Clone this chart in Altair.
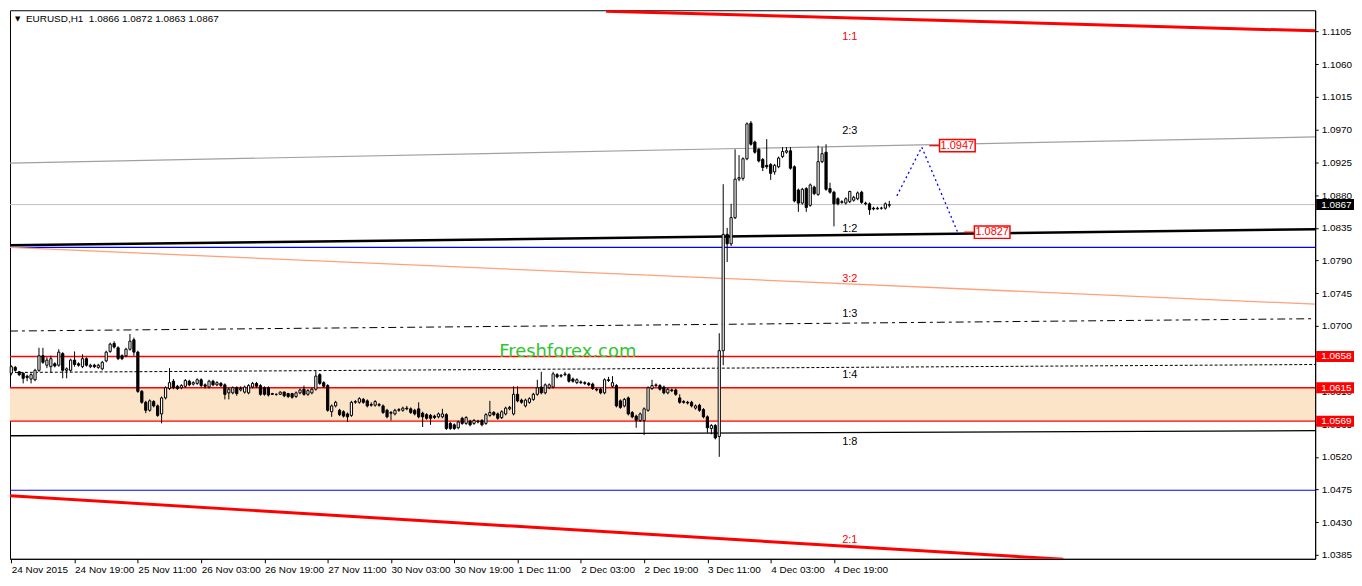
import altair as alt
import pandas as pd

# ---------------- data ----------------
opens = [1.0635,1.0643,1.0637,1.0635,1.0631,1.0627,1.0626,1.0639,1.0659,1.0646,
         1.0644,1.0648,1.0646,1.0662,1.0639,1.0639,1.0653,1.0648,1.0644,1.0655,
         1.0644,1.0646,1.0643,1.0641,1.0652,1.0665,1.0676,1.0670,1.0659,1.0659,
         1.0668,1.0681,1.0664,1.0610,1.0595,1.0584,1.0596,1.0590,1.0579,1.0601,
         1.0614,1.0624,1.0617,1.0615,1.0617,1.0624,1.0620,1.0621,1.0626,1.0619,
         1.0616,1.0624,1.0619,1.0621,1.0619,1.0608,1.0608,1.0615,1.0612,1.0609,
         1.0608,1.0616,1.0621,1.0618,1.0615,1.0615,1.0607,1.0606,1.0606,1.0609,
         1.0607,1.0607,1.0603,1.0608,1.0613,1.0606,1.0608,1.0613,1.0633,1.0622,
         1.0618,1.0582,1.0590,1.0584,1.0582,1.0579,1.0577,1.0595,1.0595,1.0599,
         1.0597,1.0592,1.0591,1.0592,1.0590,1.0584,1.0581,1.0579,1.0584,1.0584,
         1.0587,1.0586,1.0584,1.0586,1.0580,1.0578,1.0577,1.0576,1.0575,1.0575,
         1.0578,1.0566,1.0564,1.0560,1.0573,1.0566,1.0569,1.0566,1.0569,1.0570,
         1.0566,1.0577,1.0581,1.0579,1.0574,1.0579,1.0586,1.0579,1.0606,1.0598,
         1.0590,1.0595,1.0599,1.0606,1.0616,1.0608,1.0615,1.0616,1.0633,1.0631,
         1.0633,1.0633,1.0627,1.0622,1.0623,1.0622,1.0621,1.0620,1.0613,1.0613,
         1.0608,1.0626,1.0617,1.0618,1.0597,1.0590,1.0601,1.0581,1.0576,1.0570,
         1.0570,1.0584,1.0614,1.0618,1.0618,1.0616,1.0608,1.0612,1.0612,1.0601,
         1.0596,1.0595,1.0595,1.0587,1.0591,1.0585,1.0575,1.0559,1.0563,1.0548,
         1.0666,1.0826,1.0813,1.0849,1.0902,1.0903,1.0930,1.0979,1.0953,1.0943,
         1.0929,1.0921,1.0922,1.0912,1.0919,1.0933,1.0939,1.0941,1.0919,1.0887,
         1.0869,1.0889,1.0866,1.0891,1.0881,1.0926,1.0939,1.0889,1.0884,1.0875,
         1.0870,1.0869,1.0871,1.0873,1.0875,1.0884,1.0869,1.0868,1.0862,1.0861,
         1.0862,1.0862,1.0866]
highs = [1.0646,1.0645,1.0638,1.0636,1.0633,1.0635,1.0641,1.0670,1.0670,1.0657,
         1.0659,1.0650,1.0668,1.0664,1.0643,1.0655,1.0665,1.0650,1.0661,1.0657,
         1.0648,1.0648,1.0648,1.0652,1.0666,1.0677,1.0679,1.0672,1.0661,1.0670,
         1.0689,1.0684,1.0666,1.0612,1.0597,1.0599,1.0598,1.0592,1.0603,1.0617,
         1.0642,1.0627,1.0619,1.0620,1.0627,1.0626,1.0624,1.0628,1.0628,1.0621,
         1.0626,1.0626,1.0624,1.0623,1.0621,1.0615,1.0617,1.0617,1.0617,1.0618,
         1.0620,1.0623,1.0623,1.0620,1.0617,1.0617,1.0608,1.0607,1.0610,1.0610,
         1.0608,1.0608,1.0610,1.0614,1.0618,1.0613,1.0615,1.0638,1.0635,1.0624,
         1.0620,1.0592,1.0597,1.0586,1.0584,1.0581,1.0597,1.0598,1.0602,1.0601,
         1.0599,1.0595,1.0598,1.0594,1.0592,1.0586,1.0583,1.0586,1.0587,1.0589,
         1.0590,1.0588,1.0586,1.0595,1.0582,1.0580,1.0579,1.0578,1.0581,1.0586,
         1.0580,1.0568,1.0566,1.0570,1.0575,1.0576,1.0571,1.0572,1.0571,1.0572,
         1.0580,1.0597,1.0583,1.0581,1.0584,1.0589,1.0590,1.0617,1.0617,1.0600,
         1.0600,1.0602,1.0608,1.0626,1.0637,1.0621,1.0621,1.0637,1.0635,1.0634,
         1.0637,1.0635,1.0629,1.0628,1.0625,1.0624,1.0623,1.0622,1.0615,1.0615,
         1.0628,1.0630,1.0631,1.0620,1.0599,1.0601,1.0603,1.0583,1.0578,1.0581,
         1.0588,1.0617,1.0626,1.0621,1.0620,1.0618,1.0615,1.0614,1.0614,1.0606,
         1.0598,1.0597,1.0597,1.0592,1.0593,1.0587,1.0577,1.0565,1.0565,1.0690,
         1.0895,1.0835,1.0868,1.0943,1.0935,1.0932,1.0980,1.0982,1.0955,1.0945,
         1.0931,1.0957,1.0924,1.0923,1.0933,1.0946,1.0946,1.0946,1.0921,1.0889,
         1.0890,1.0891,1.0896,1.0893,1.0948,1.0946,1.0950,1.0897,1.0886,1.0877,
         1.0873,1.0877,1.0886,1.0879,1.0885,1.0886,1.0871,1.0870,1.0864,1.0864,
         1.0864,1.0870,1.0872]
lows = [1.0632,1.0637,1.0631,1.0621,1.0624,1.0621,1.0624,1.0637,1.0648,1.0642,
        1.0636,1.0643,1.0644,1.0628,1.0628,1.0637,1.0644,1.0644,1.0642,1.0644,
        1.0642,1.0642,1.0641,1.0639,1.0650,1.0663,1.0669,1.0653,1.0653,1.0657,
        1.0666,1.0659,1.0608,1.0593,1.0580,1.0582,1.0588,1.0575,1.0566,1.0599,
        1.0612,1.0613,1.0612,1.0613,1.0615,1.0617,1.0618,1.0619,1.0616,1.0614,
        1.0614,1.0617,1.0617,1.0616,1.0599,1.0599,1.0606,1.0604,1.0610,1.0607,
        1.0606,1.0614,1.0615,1.0604,1.0604,1.0603,1.0605,1.0604,1.0605,1.0602,
        1.0601,1.0600,1.0601,1.0606,1.0604,1.0604,1.0606,1.0611,1.0619,1.0615,
        1.0582,1.0575,1.0588,1.0576,1.0574,1.0568,1.0575,1.0593,1.0593,1.0593,
        1.0588,1.0589,1.0589,1.0589,1.0579,1.0573,1.0570,1.0577,1.0582,1.0582,
        1.0584,1.0579,1.0577,1.0573,1.0561,1.0571,1.0564,1.0572,1.0573,1.0573,
        1.0557,1.0557,1.0557,1.0558,1.0564,1.0564,1.0562,1.0564,1.0566,1.0562,
        1.0564,1.0575,1.0576,1.0571,1.0572,1.0577,1.0584,1.0577,1.0595,1.0593,
        1.0588,1.0593,1.0597,1.0604,1.0606,1.0606,1.0613,1.0614,1.0628,1.0629,
        1.0631,1.0622,1.0622,1.0620,1.0620,1.0619,1.0617,1.0612,1.0610,1.0606,
        1.0606,1.0623,1.0615,1.0588,1.0586,1.0588,1.0577,1.0573,1.0560,1.0568,
        1.0550,1.0582,1.0612,1.0616,1.0611,1.0606,1.0606,1.0609,1.0604,1.0593,
        1.0593,1.0592,1.0588,1.0585,1.0582,1.0573,1.0553,1.0551,1.0544,1.0520,
        1.0646,1.0788,1.0810,1.0847,1.0899,1.0900,1.0928,1.0948,1.0937,1.0925,
        1.0913,1.0916,1.0901,1.0908,1.0917,1.0931,1.0937,1.0915,1.0870,1.0857,
        1.0867,1.0857,1.0864,1.0880,1.0879,1.0924,1.0886,1.0882,1.0837,1.0866,
        1.0868,1.0867,1.0869,1.0871,1.0873,1.0868,1.0866,1.0853,1.0859,1.0860,
        1.0860,1.0860,1.0863]
closes = [1.0644,1.0639,1.0633,1.0628,1.0629,1.0633,1.0639,1.0659,1.0650,1.0653,
          1.0655,1.0645,1.0664,1.0639,1.0641,1.0653,1.0647,1.0646,1.0655,1.0646,
          1.0646,1.0644,1.0646,1.0650,1.0664,1.0675,1.0671,1.0655,1.0655,1.0668,
          1.0679,1.0664,1.0610,1.0595,1.0584,1.0597,1.0590,1.0577,1.0601,1.0615,
          1.0622,1.0615,1.0614,1.0618,1.0625,1.0619,1.0622,1.0626,1.0618,1.0617,
          1.0624,1.0619,1.0622,1.0618,1.0606,1.0613,1.0615,1.0607,1.0614,1.0616,
          1.0618,1.0621,1.0617,1.0606,1.0606,1.0605,1.0606,1.0606,1.0609,1.0604,
          1.0603,1.0602,1.0608,1.0612,1.0606,1.0611,1.0613,1.0631,1.0621,1.0617,
          1.0584,1.0590,1.0595,1.0578,1.0576,1.0575,1.0595,1.0596,1.0600,1.0595,
          1.0590,1.0591,1.0596,1.0591,1.0581,1.0575,1.0580,1.0584,1.0585,1.0587,
          1.0586,1.0581,1.0579,1.0575,1.0575,1.0573,1.0573,1.0574,1.0579,1.0579,
          1.0559,1.0559,1.0559,1.0568,1.0566,1.0574,1.0564,1.0570,1.0568,1.0564,
          1.0578,1.0581,1.0578,1.0573,1.0582,1.0587,1.0588,1.0606,1.0597,1.0595,
          1.0598,1.0600,1.0606,1.0615,1.0608,1.0619,1.0619,1.0634,1.0630,1.0632,
          1.0634,1.0624,1.0624,1.0626,1.0622,1.0621,1.0619,1.0614,1.0612,1.0608,
          1.0626,1.0625,1.0622,1.0590,1.0588,1.0599,1.0579,1.0575,1.0570,1.0579,
          1.0586,1.0615,1.0618,1.0619,1.0613,1.0608,1.0613,1.0611,1.0606,1.0595,
          1.0595,1.0594,1.0590,1.0590,1.0584,1.0575,1.0560,1.0563,1.0546,1.0666,
          1.0826,1.0813,1.0849,1.0902,1.0904,1.0930,1.0978,1.0950,1.0939,1.0927,
          1.0918,1.0919,1.0910,1.0921,1.0931,1.0940,1.0941,1.0917,1.0872,1.0869,
          1.0888,1.0863,1.0894,1.0882,1.0926,1.0937,1.0888,1.0884,1.0868,1.0868,
          1.0871,1.0875,1.0885,1.0877,1.0883,1.0870,1.0868,1.0860,1.0861,1.0862,
          1.0862,1.0868,1.0867]

time_labels = ["24 Nov 2015", "24 Nov 19:00", "25 Nov 11:00", "26 Nov 03:00",
               "26 Nov 19:00", "27 Nov 11:00", "30 Nov 03:00", "30 Nov 19:00",
               "1 Dec 11:00", "2 Dec 03:00", "2 Dec 19:00", "3 Dec 11:00",
               "4 Dec 03:00", "4 Dec 19:00"]
label_bars = [0, 16, 32, 48, 64, 80, 96, 112, 128, 144, 160, 176, 192, 208]
price_ticks = [1.0385, 1.0430, 1.0475, 1.0520, 1.0565, 1.0610, 1.0655, 1.0700,
               1.0745, 1.0790, 1.0835, 1.0880, 1.0925, 1.0970, 1.1015, 1.1060, 1.1105]

# channel / level lines (two end points each, bar index and price)
line_names = ["top_red", "top_red", "bot_red", "bot_red", "gray23", "gray23",
              "last", "last", "black12", "black12", "blue_hi", "blue_hi",
              "salmon32", "salmon32", "dashdot13", "dashdot13", "dot14", "dot14",
              "red1", "red1", "red2", "red2", "red3", "red3",
              "black18", "black18", "blue_lo", "blue_lo"]
line_k = [150.4, 329.67, -0.33, 266, -0.33, 329.67,
          -0.33, 329.67, -0.33, 329.67, -0.33, 329.67,
          -0.33, 329.67, -0.33, 329.67, -0.33, 329.67,
          -0.33, 329.67, -0.33, 329.67, -0.33, 329.67,
          -0.33, 329.67, -0.33, 329.67]
line_p = [1.1133, 1.1106, 1.04664, 1.0379, 1.0924, 1.0960,
          1.0867, 1.0867, 1.0811, 1.0833, 1.0808, 1.0808,
          1.0808, 1.0730, 1.0693, 1.0710, 1.0636, 1.0647,
          1.0658, 1.0658, 1.0615, 1.0615, 1.0569, 1.0569,
          1.0549, 1.0556, 1.0474, 1.0474]

band_low, band_high = 1.0569, 1.0615

ratio_text = ["1:1", "2:3", "1:2", "3:2", "1:3", "1:4", "1:8", "2:1"]
ratio_p = [1.1098, 1.0968, 1.0833, 1.0765, 1.0716, 1.0633, 1.0540, 1.0405]
ratio_k = [212, 212, 212, 212, 212, 212, 212, 212]

forecast_k = [223.9, 230.2, 239.2]
forecast_p = [1.0879, 1.0946, 1.0830]

target_text = ["1.0947", "1.0827"]
target_k = [239.2, 248.0]
target_p = [1.0948, 1.0829]
connector_k = [232.1, 234.7, 240.9, 243.6]
connector_p = [1.0948, 1.0948, 1.0829, 1.0829]
connector_id = ["a", "a", "b", "b"]

axis_box_p = [1.0867, 1.0658, 1.0615, 1.0569]
axis_box_kind = ["last", "level", "level", "level"]

title_text = ["EURUSD,H1\u00a0\u00a01.0866 1.0872 1.0863 1.0867"]
watermark_text = ["Freshforex.com"]
watermark_k = [140.7]
watermark_p = [1.0664]

# ---------------- chart ----------------
W, H = 1311, 551
FONT = "Liberation Sans"

bars = pd.DataFrame({"k": list(range(len(opens))), "o": opens, "h": highs,
                     "l": lows, "c": closes})
lines = pd.DataFrame({"name": line_names, "k": line_k, "p": line_p})
ratios = pd.DataFrame({"t": ratio_text, "k": ratio_k, "p": ratio_p})
forecast = pd.DataFrame({"k": forecast_k, "p": forecast_p, "i": [0, 1, 2]})
targets = pd.DataFrame({"t": target_text, "k": target_k, "p": target_p})
connectors = pd.DataFrame({"k": connector_k, "p": connector_p, "id": connector_id})
axis_boxes = pd.DataFrame({"p": axis_box_p, "kind": axis_box_kind,
                           "t": [f"{v:.4f}" for v in axis_box_p]})
band = pd.DataFrame({"k": [-0.33], "k2": [329.67], "p": [band_low], "p2": [band_high]})
title_df = pd.DataFrame({"t": title_text})
wm = pd.DataFrame({"t": watermark_text, "k": watermark_k, "p": watermark_p})

xs = alt.Scale(domain=[-0.33, 329.67], nice=False, zero=False)
ys = alt.Scale(domain=[1.03797, 1.11343], nice=False, zero=False)

label_arr = "[" + ",".join(f"'{t}'" for t in time_labels) + "]"
x_axis = alt.Axis(values=label_bars, labelExpr=f"{label_arr}[round(datum.value/16)]",
                  title=None, grid=False, orient="bottom", tickSize=4,
                  labelAlign="left", labelPadding=2, labelFont=FONT, labelFontSize=10,
                  labelColor="black", domainColor="black", tickColor="black",
                  labelOverlap=False, labelFlush=False)
y_axis = alt.Axis(values=price_ticks, format=".4f", title=None, grid=False,
                  orient="right", tickSize=3, labelPadding=3, labelFont=FONT,
                  labelFontSize=10, labelColor="black", domainColor="black",
                  tickColor="black", labelOverlap=False, labelFlush=False)


def X(field):
    return alt.X(field, type="quantitative", scale=xs, axis=x_axis)


def Y(field):
    return alt.Y(field, type="quantitative", scale=ys, axis=y_axis)


layers = []

# shaded band
layers.append(alt.Chart(band).mark_rect(color="#FCE4C9", clip=True).encode(
    x=X("k"), x2="k2", y=Y("p"), y2="p2"))

line_styles = {
    "top_red": dict(color="#FF0000", strokeWidth=3),
    "bot_red": dict(color="#FF0000", strokeWidth=3),
    "gray23": dict(color="#A0A0A0", strokeWidth=1.2),
    "last": dict(color="#C0C0C0", strokeWidth=1),
    "black12": dict(color="#000000", strokeWidth=2.5),
    "blue_hi": dict(color="#0000FF", strokeWidth=1.2),
    "salmon32": dict(color="#FFA07A", strokeWidth=1.3),
    "dashdot13": dict(color="#000000", strokeWidth=1, strokeDash=[8, 4, 3, 4]),
    "dot14": dict(color="#000000", strokeWidth=1, strokeDash=[3, 2]),
    "red1": dict(color="#FF0000", strokeWidth=1.3),
    "red2": dict(color="#FF0000", strokeWidth=1.3),
    "red3": dict(color="#FF0000", strokeWidth=1.3),
    "black18": dict(color="#000000", strokeWidth=1.3),
    "blue_lo": dict(color="#0000FF", strokeWidth=1.2),
}
for name, st in line_styles.items():
    layers.append(alt.Chart(lines).transform_filter(alt.datum.name == name)
                  .mark_line(clip=True, **st).encode(x=X("k"), y=Y("p")))

# candles: wicks and bodies
layers.append(alt.Chart(bars).mark_rule(color="black", strokeWidth=1).encode(
    x=X("k"), y=Y("l"), y2="h"))
layers.append(alt.Chart(bars).transform_calculate(
    kl="datum.k - 0.28", kr="datum.k + 0.28").mark_rect(
    stroke="black", strokeWidth=1).encode(
    x=X("kl"), x2="kr", y=Y("o"), y2="c",
    fill=alt.condition("datum.c >= datum.o", alt.value("white"), alt.value("black"))))

# forecast path
layers.append(alt.Chart(forecast).mark_line(color="#0000FF", strokeWidth=1.3,
                                            strokeDash=[2, 3]).encode(
    x=X("k"), y=Y("p"), order="i"))

# connectors and target boxes
layers.append(alt.Chart(connectors).mark_line(color="#FF0000", strokeWidth=1.3).encode(
    x=X("k"), y=Y("p"), detail="id"))
layers.append(alt.Chart(targets).transform_calculate(
    kl="datum.k - 4.5", kr="datum.k + 4.5", pl="datum.p - 0.00085", ph="datum.p + 0.00085"
).mark_rect(fill="white", stroke="#FF0000", strokeWidth=1.5).encode(
    x=X("kl"), x2="kr", y=Y("pl"), y2="ph"))
layers.append(alt.Chart(targets).mark_text(color="#FF0000", font=FONT, fontSize=11,
                                           baseline="middle", align="center").encode(
    x=X("k"), y=Y("p"), text="t"))

# ratio labels
layers.append(alt.Chart(ratios).mark_text(font=FONT, fontSize=11, baseline="middle",
                                          align="center").encode(
    x=X("k"), y=Y("p"), text="t",
    color=alt.condition("indexof(['1:1','3:2','2:1'], datum.t) >= 0",
                        alt.value("#FF0000"), alt.value("#000000"))))

# watermark
layers.append(alt.Chart(wm).mark_text(font="DejaVu Sans", fontSize=18, color="#2FC52F",
                                      baseline="middle", align="center").encode(
    x=X("k"), y=Y("p"), text="t"))

# right-side price boxes
layers.append(alt.Chart(axis_boxes).transform_calculate(
    pl="datum.p - 0.00076", ph="datum.p + 0.00076").mark_rect().encode(
    x=alt.value(W + 1), x2=alt.value(W + 39), y=Y("pl"), y2="ph",
    fill=alt.condition("datum.kind == 'last'", alt.value("black"), alt.value("#FF0000"))))
layers.append(alt.Chart(axis_boxes).mark_text(color="white", font=FONT, fontSize=10,
                                              align="left", baseline="middle").encode(
    x=alt.value(W + 6), y=Y("p"), text="t"))

# title
layers.append(alt.Chart(title_df).mark_text(font="DejaVu Sans", fontSize=7, align="left",
                                            baseline="middle", color="black").encode(
    x=alt.value(5), y=alt.value(9), text=alt.value("\u25bc")))
layers.append(alt.Chart(title_df).mark_text(font=FONT, fontSize=10, align="left",
                                            baseline="middle", color="black").encode(
    x=alt.value(16), y=alt.value(9), text="t"))

chart = alt.layer(*layers).properties(
    width=W, height=H,
    padding={"left": 1, "top": 1, "right": 0, "bottom": 0},
    background="white",
).configure_view(stroke="black", strokeWidth=1)

chart.save("out.html", embed_options={"renderer": "svg", "actions": False})
